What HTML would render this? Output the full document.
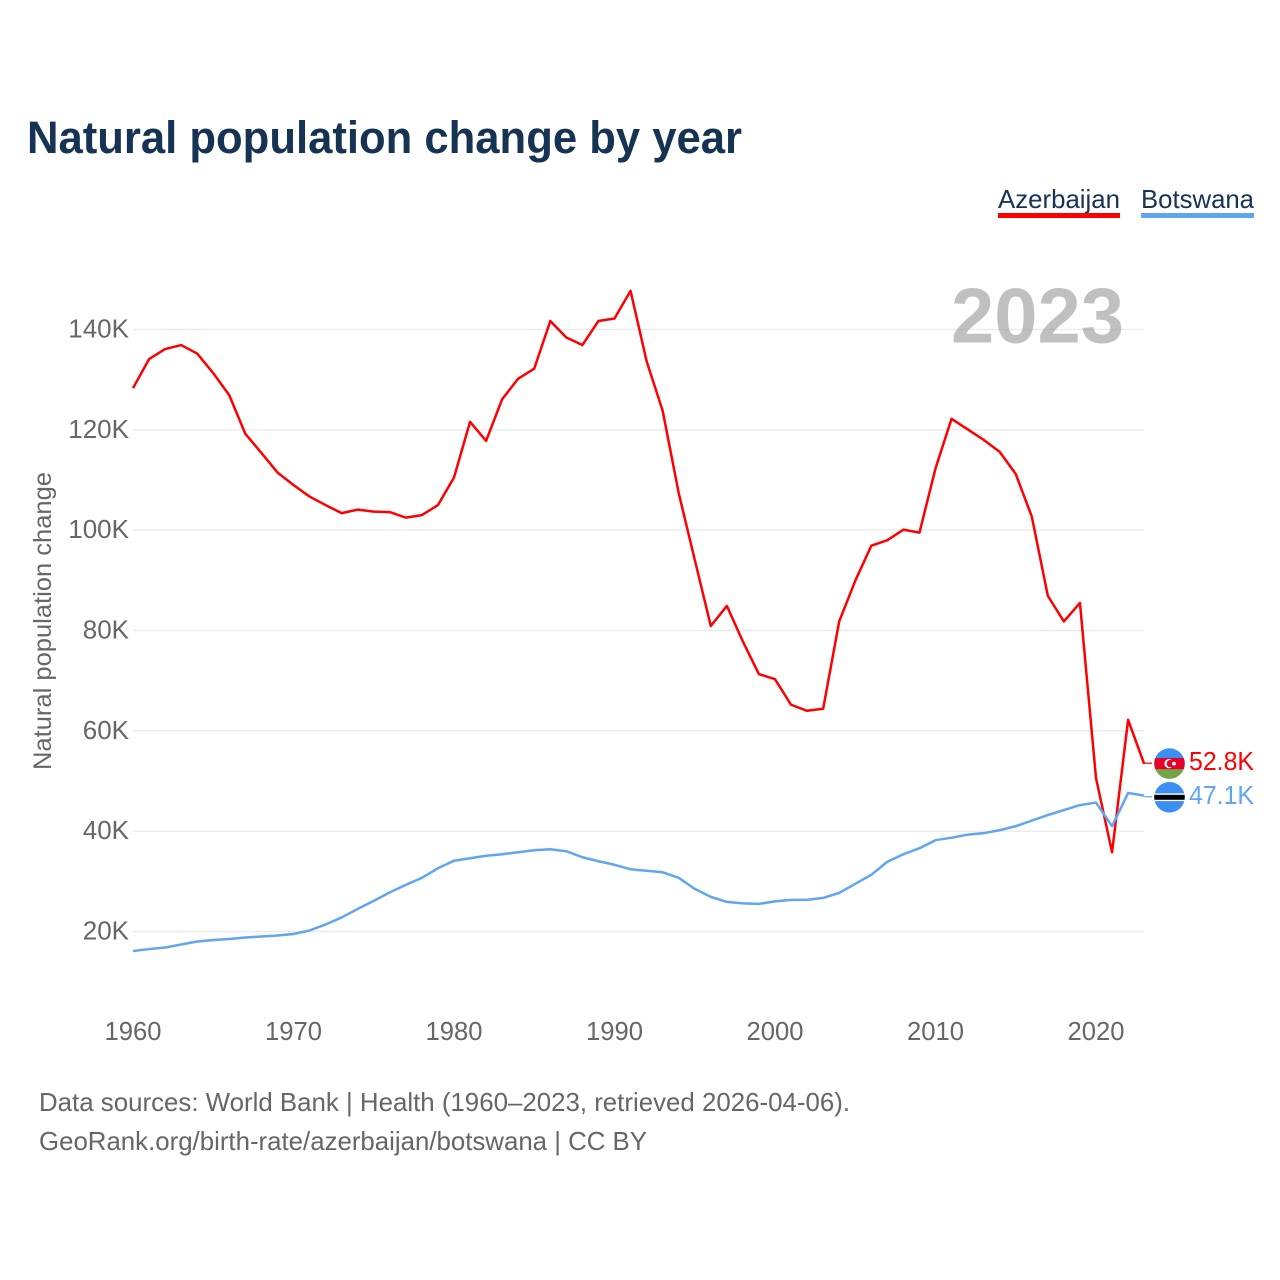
<!DOCTYPE html>
<html lang="en">
<head>
<meta charset="utf-8">
<title>Natural population change by year</title>
<style>
  html, body { margin: 0; padding: 0; background: #fff; }
  svg { display: block; font-family: "Liberation Sans", "DejaVu Sans", sans-serif; }
</style>
</head>
<body>
<svg id="chart" width="1280" height="1280" viewBox="0 0 1280 1280" xmlns="http://www.w3.org/2000/svg">
  <defs>
    <clipPath id="az-clip"><circle cx="1169.5" cy="763.6" r="15.3"></circle></clipPath>
    <clipPath id="bw-clip"><circle cx="1169.5" cy="797.3" r="15.3"></circle></clipPath>
  </defs>
  <rect x="0" y="0" width="1280" height="1280" fill="#ffffff"></rect>

  <text x="27" y="153" font-size="45" font-weight="700" fill="#163354" textLength="715" lengthAdjust="spacingAndGlyphs">Natural population change by year</text>

  <g>
    <g>
      <text x="998" y="208" font-size="26" fill="#163354" textLength="122" lengthAdjust="spacingAndGlyphs">Azerbaijan</text>
      <rect x="998" y="213" width="122" height="5" fill="#ff0000"></rect>
    </g>
    <g>
      <text x="1141" y="208" font-size="26" fill="#163354" textLength="113" lengthAdjust="spacingAndGlyphs">Botswana</text>
      <rect x="1141" y="213" width="113" height="5" fill="#60a5f0"></rect>
    </g>
  </g>

  <g id="grid"></g>
  <g id="y-axis"></g>
  <g id="x-axis"></g>

  <text transform="translate(51,621) rotate(-90)" text-anchor="middle" font-size="25" fill="#666666" textLength="298" lengthAdjust="spacingAndGlyphs">Natural population change</text>

  <g id="series"></g>

  <text x="951" y="342.5" font-size="78" font-weight="700" fill="#999999" fill-opacity="0.62" textLength="173" lengthAdjust="spacingAndGlyphs">2023</text>

  <g clip-path="url(#az-clip)">
    <rect x="1154" y="748" width="31" height="10.3" fill="#3a8ff0"></rect>
    <rect x="1154" y="758" width="31" height="11.4" fill="#e4002b"></rect>
    <rect x="1154" y="769.3" width="31" height="11" fill="#6fa544"></rect>
    <circle cx="1169" cy="763.6" r="4.6" fill="#ffffff"></circle>
    <circle cx="1170.4" cy="763.6" r="3.7" fill="#e4002b"></circle>
    <circle cx="1174" cy="763.6" r="1.9" fill="#ffffff"></circle>
  </g>
  <g clip-path="url(#bw-clip)">
    <rect x="1154" y="781" width="31" height="33" fill="#3a8ff0"></rect>
    <rect x="1154" y="793.4" width="31" height="7.7" fill="#ffffff"></rect>
    <rect x="1154" y="794.8" width="31" height="5" fill="#000000"></rect>
  </g>

  <g id="end-labels"></g>

  <text x="39" y="1111" font-size="26" fill="#666666" textLength="811" lengthAdjust="spacingAndGlyphs">Data sources: World Bank | Health (1960–2023, retrieved 2026-04-06).</text>
  <text x="39" y="1150" font-size="26" fill="#666666" textLength="608" lengthAdjust="spacingAndGlyphs">GeoRank.org/birth-rate/azerbaijan/botswana | CC BY</text>
</svg>

<script>
const startYear = 1960;
const azerbaijanValues = [
  128.3, 134.1, 136.1, 136.9, 135.2, 131.3, 126.9, 119.2, 115.4, 111.5,
  109.0, 106.7, 105.0, 103.4, 104.1, 103.7, 103.6, 102.5, 103.0, 105.0,
  110.5, 121.6, 117.8, 126.1, 130.2, 132.2, 141.7, 138.4, 136.9, 141.7,
  142.2, 147.7, 133.7, 123.8, 107.4, 94.1, 80.9, 84.9, 77.8, 71.3,
  70.3, 65.2, 64.0, 64.4, 81.8, 89.9, 96.9, 98.0, 100.1, 99.5,
  112.3, 122.2, 120.1, 118.0, 115.6, 111.2, 102.7, 86.9, 81.8, 85.5,
  50.6, 35.8, 62.2, 53.4
];
const botswanaValues = [
  16.1, 16.5, 16.8, 17.4, 18.0, 18.3, 18.5, 18.8, 19.0, 19.2,
  19.5, 20.2, 21.4, 22.8, 24.5, 26.1, 27.8, 29.3, 30.7, 32.6,
  34.1, 34.6, 35.1, 35.4, 35.8, 36.2, 36.4, 36.0, 34.8, 34.0,
  33.3, 32.4, 32.1, 31.8, 30.7, 28.5, 26.9, 25.9, 25.6, 25.5,
  26.0, 26.3, 26.3, 26.7, 27.7, 29.5, 31.3, 33.9, 35.4, 36.6,
  38.2, 38.7, 39.3, 39.6, 40.2, 41.0, 42.1, 43.2, 44.2, 45.2,
  45.7, 41.0, 47.6, 47.1
];
const yTicks = [20, 40, 60, 80, 100, 120, 140];
const xTicks = [1960, 1970, 1980, 1990, 2000, 2010, 2020];
const endLabels = ["52.8K", "47.1K"];

const SVG_NS = "http://www.w3.org/2000/svg";
const xScale = function (year) { return 133 + (year - 1960) * 16.05; };
const yScale = function (value) { return 931.5 - (value - 20) * 5.0167; };

function make(tag, attrs, parent, text) {
  const el = document.createElementNS(SVG_NS, tag);
  Object.keys(attrs).forEach(function (key) { el.setAttribute(key, attrs[key]); });
  if (text !== undefined) { el.textContent = text; }
  parent.appendChild(el);
  return el;
}

const gridGroup = document.getElementById("grid");
const yAxisGroup = document.getElementById("y-axis");
const xAxisGroup = document.getElementById("x-axis");
const seriesGroup = document.getElementById("series");
const endLabelGroup = document.getElementById("end-labels");

yTicks.forEach(function (tick) {
  const y = yScale(tick);
  const line = make("line", { x1: 133, x2: 1144, y1: y, y2: y, stroke: "#ebebeb", "stroke-width": 1.4 }, gridGroup);
  
  
  const label = make("text", { x: 129, y: y + 8, "text-anchor": "end", "font-size": 26, fill: "#666666" }, yAxisGroup, tick + "K");
  
  
});

xTicks.forEach(function (tick) {
  const label = make("text", { x: xScale(tick), y: 1040, "text-anchor": "middle", "font-size": 25.6, fill: "#666666" }, xAxisGroup, String(tick));
  
  
});

function linePoints(values) {
  return values.map(function (value, i) {
    return xScale(startYear + i).toFixed(2) + "," + yScale(value).toFixed(2);
  }).join(" ");
}

const azLine = make("polyline", { points: linePoints(azerbaijanValues), fill: "none", stroke: "#ff0000", "stroke-width": 2.5, "stroke-linejoin": "round" }, seriesGroup);



const bwLine = make("polyline", { points: linePoints(botswanaValues), fill: "none", stroke: "#60a5f0", "stroke-width": 2.5, "stroke-linejoin": "round" }, seriesGroup);



const lastX = xScale(startYear + azerbaijanValues.length - 1);

const azConnector = make("line", { x1: lastX, x2: 1152, y1: 763.2, y2: 763.2, stroke: "#ff0000", "stroke-width": 1.2 }, seriesGroup);



const bwConnector = make("line", { x1: lastX, x2: 1152, y1: 796.7, y2: 796.7, stroke: "#60a5f0", "stroke-width": 1.2 }, seriesGroup);



const azEnd = make("text", { x: 1189, y: 770, "font-size": 26, fill: "#ff0000", textLength: 65, lengthAdjust: "spacingAndGlyphs" }, endLabelGroup, endLabels[0]);



const bwEnd = make("text", { x: 1189, y: 804, "font-size": 26, fill: "#60a5f0", textLength: 65, lengthAdjust: "spacingAndGlyphs" }, endLabelGroup, endLabels[1]);


</script>
</body>
</html>
